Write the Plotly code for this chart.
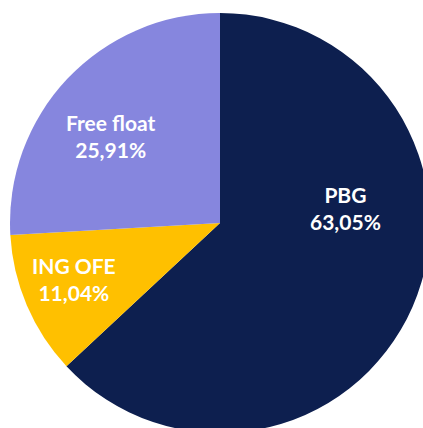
import plotly.graph_objects as go

labels = ["PBG", "ING OFE", "Free float"]
values = [63.05, 11.04, 25.91]
value_text = ["63,05%", "11,04%", "25,91%"]
colors = ["#0D1F4F", "#FFC000", "#8686DE"]

W, H = 440, 445
cx, cy, r = 220, 223, 210
# label centres (pixels) as placed in the reference
label_px = [(345.5, 208), (73.5, 279), (111, 135.5)]

fig = go.Figure(go.Pie(
    labels=labels,
    values=values,
    text=value_text,
    textinfo="none",
    sort=False,
    direction="clockwise",
    rotation=0,
    marker=dict(colors=colors, line=dict(width=0)),
    domain=dict(x=[0, 1], y=[1 - (cy + r) / H, 1 - (cy - r) / H]),
    showlegend=False,
    hoverinfo="label+text",
))

for lab, txt, (px, py) in zip(labels, value_text, label_px):
    fig.add_annotation(
        x=px / W, y=1 - py / H, xref="paper", yref="paper",
        xanchor="center", yanchor="middle",
        text=f"{lab}<br>{txt}", showarrow=False,
        font=dict(family="Lato", size=21, color="white", weight="bold"),
    )

fig.update_layout(
    width=W, height=H,
    margin=dict(l=0, r=0, t=0, b=0),
    paper_bgcolor="white",
    plot_bgcolor="white",
)

fig.write_html(
    "out.html",
    config={"displayModeBar": False},
    post_script="document.body.style.margin='0';document.body.style.overflow='hidden';document.documentElement.style.overflow='hidden';",
)
